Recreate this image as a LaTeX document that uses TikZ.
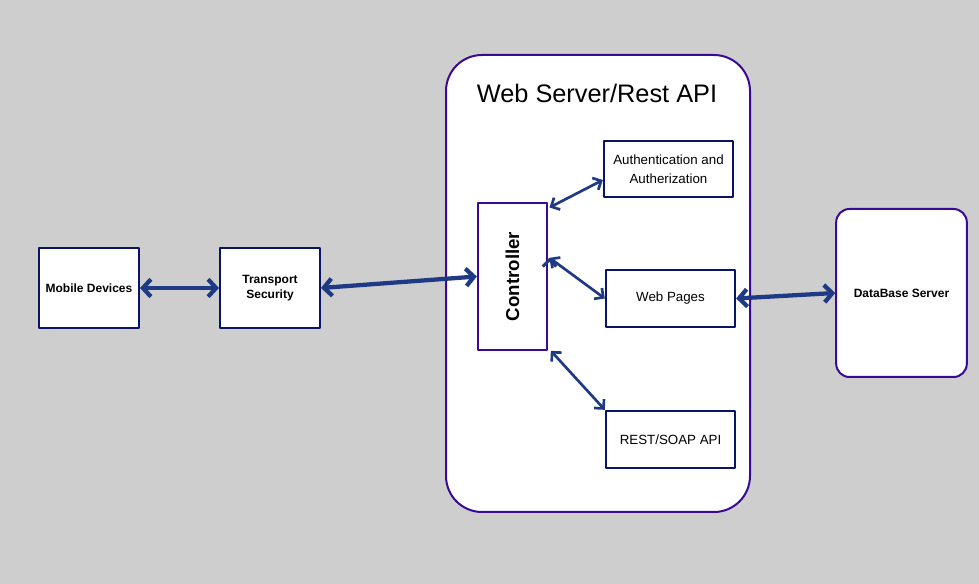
\documentclass[tikz,border=0pt]{standalone}
\usepackage{fontspec}
\setmainfont{Liberation Sans}
\usetikzlibrary{arrows.meta}
\definecolor{bggray}{HTML}{CECECE}
\definecolor{boxpurple}{HTML}{3A0A96}
\definecolor{boxnavy}{HTML}{0A1466}
\definecolor{arrowblue}{HTML}{1F3A85}
\tikzset{
  box/.style={draw=boxnavy,line width=1.5pt,fill=white,inner sep=0pt,align=center,font=\fontsize{9}{11}\selectfont},
  link/.style={arrowblue,line width=2pt,{Straight Barb[length=5pt,width=10pt]}-{Straight Barb[length=5pt,width=10pt]}},
  biglink/.style={arrowblue,line width=3.2pt,{Straight Barb[length=6pt,width=13pt]}-{Straight Barb[length=6pt,width=13pt]}}
}
\begin{document}
\begin{tikzpicture}[x=0.75pt,y=-0.75pt,line cap=round,line join=round]
\fill[bggray] (0,0) rectangle (979,584);
\useasboundingbox (0,0) rectangle (979,584);
% web server frame
\draw[boxpurple,line width=1.5pt,fill=white,rounded corners=27pt] (446,55) rectangle (750,512);
\node[font=\fontsize{19}{22}\selectfont] (title) at (597,93) {Web Server/Rest API};
% outer boxes
\node[box,minimum width=75pt,minimum height=60pt,font=\bfseries\fontsize{9}{11}\selectfont] (mobile) at (89,288) {Mobile Devices};
\node[box,minimum width=75pt,minimum height=60pt,font=\bfseries\fontsize{9}{11}\selectfont] (transport) at (270,288) {Transport\\Security};
\node[box,draw=boxpurple,minimum width=52pt,minimum height=110pt] (ctrl) at (512.5,276.5) {};
\node[rotate=90,font=\bfseries\fontsize{14}{16}\selectfont] at (ctrl) {Controller};
% inner boxes
\node[box,minimum width=97pt,minimum height=42pt,font=\fontsize{10}{14}\selectfont] (auth) at (668.5,169) {Authentication and\\Autherization};
\node[box,minimum width=97pt,minimum height=43pt,font=\fontsize{10}{12}\selectfont] (pages) at (670.5,298.5) {Web Pages};
\node[box,minimum width=97pt,minimum height=43pt,font=\fontsize{10}{12}\selectfont] (rest) at (670.5,439.5) {REST/SOAP API};
\node[box,draw=boxpurple,rounded corners=10pt,minimum width=98pt,minimum height=126pt,font=\bfseries\fontsize{9}{11}\selectfont] (db) at (901.5,293) {DataBase Server};
% connectors
\draw[biglink] (mobile.east) -- (transport.west);
\draw[biglink] (transport.east) -- (ctrl.west);
\draw[link] (ctrl.north east) ++(1pt,-4pt) coordinate (c1) -- (auth.west |- 0,180) coordinate (a1);
\draw[link] (ctrl.east) ++(1pt,14pt) coordinate (c2);
\draw[link] (c2) -- (pages.west);
\draw[link] (ctrl.south east) ++(2pt,0) coordinate (c3) -- (rest.north west);
\draw[biglink] (pages.east) -- (db.west);
\end{tikzpicture}
\end{document}
